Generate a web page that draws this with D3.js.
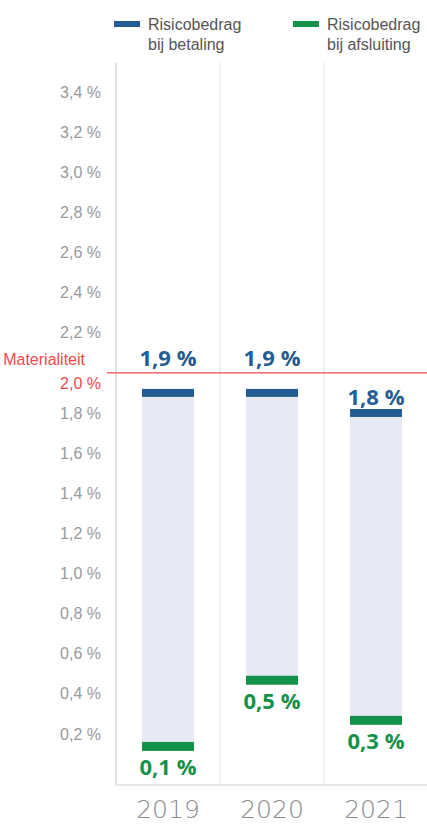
<!DOCTYPE html>
<html>
<head>
<meta charset="utf-8">
<script src="https://cdn.jsdelivr.net/npm/d3@7"></script>
<style>
  body { margin: 0; background: #fff; }
</style>
</head>
<body>
<div id="graph"></div>
<script>
// chart data
var years = ["2019", "2020", "2021"];
var betaling = [1.9, 1.9, 1.8];       // risicobedrag bij betaling
var afsluiting = [0.14, 0.47, 0.27];  // risicobedrag bij afsluiting
var yTicks = [0.2, 0.4, 0.6, 0.8, 1.0, 1.2, 1.4, 1.6, 1.8, 2.0, 2.2, 2.4, 2.6, 2.8, 3.0, 3.2, 3.4];
var materialiteit = 2.0;
var legendLabels = [["Risicobedrag", "bij betaling"], ["Risicobedrag", "bij afsluiting"]];

function draw_function() {
    var width = 427, height = 825;
    var blue = "#255d92", green = "#14924a", red = "#ef4a4a";

    var vis = d3.select("#graph")
        .append("svg")
        .attr("width", width).attr("height", height);

    var x = d3.scaleBand().domain(years).range([116, 428]).padding(0);
    var y = d3.scaleLinear().domain([0, 3.5]).range([774, 72]);
    var comma = function(v) { return d3.format(".1f")(v).replace(".", ",") + " %"; };

    // column separators + frame
    vis.selectAll("line.col")
        .data(years)
        .enter()
        .append("line")
        .attr("x1", function(d) { return x(d); })
        .attr("x2", function(d) { return x(d); })
        .attr("y1", 63).attr("y2", 786)
        .attr("stroke", function(d, i) { return i == 0 ? "#e2e2e2" : "#efefef"; })
        .attr("stroke-width", 2);
    vis.append("line")
        .attr("x1", 115).attr("x2", width)
        .attr("y1", 785).attr("y2", 785)
        .attr("stroke", "#e6e6e6").attr("stroke-width", 2);

    // y axis labels
    var yAxis = d3.axisLeft(y).tickValues(yTicks).tickSize(0).tickPadding(0)
        .tickFormat(comma);
    var ga = vis.append("g").attr("transform", "translate(101,0)").call(yAxis);
    ga.select(".domain").remove();
    ga.selectAll("text")
        .attr("font-family", "'Liberation Sans Narrow', 'Arial Narrow', sans-serif")
        .attr("font-size", 16)
        .attr("dy", function(d) { return d == materialiteit ? "1.0em" : "0.32em"; })
        .attr("fill", function(d) { return d == materialiteit ? red : "#9a9a9a"; });

    var bw = 52;
    var cx = function(i) { return x(years[i]) + x.bandwidth() / 2; };

    // range band
    vis.selectAll("rect.band")
        .data(years)
        .enter()
        .append("rect")
        .attr("x", function(d, i) { return cx(i) - bw / 2; })
        .attr("y", function(d, i) { return y(betaling[i]); })
        .attr("width", bw)
        .attr("height", function(d, i) { return y(afsluiting[i]) - y(betaling[i]); })
        .attr("fill", "#e7eaf4");

    // blue marks
    vis.selectAll("rect.top")
        .data(betaling)
        .enter()
        .append("rect")
        .attr("x", function(d, i) { return cx(i) - bw / 2; })
        .attr("y", function(d) { return y(d) - 4; })
        .attr("width", bw).attr("height", 8)
        .attr("fill", blue);

    // green marks
    vis.selectAll("rect.bottom")
        .data(afsluiting)
        .enter()
        .append("rect")
        .attr("x", function(d, i) { return cx(i) - bw / 2; })
        .attr("y", function(d) { return y(d) - 4; })
        .attr("width", bw).attr("height", 9)
        .attr("fill", green);

    // materialiteit line
    vis.append("line")
        .attr("x1", 107).attr("x2", width)
        .attr("y1", y(materialiteit)).attr("y2", y(materialiteit))
        .attr("stroke", red).attr("stroke-width", 1.2);
    vis.append("text")
        .attr("x", 85).attr("y", y(materialiteit) - 8)
        .attr("text-anchor", "end")
        .attr("font-family", "'Liberation Sans Narrow', 'Arial Narrow', sans-serif")
        .attr("font-size", 16)
        .attr("fill", red)
        .text("Materialiteit");

    var lblFont = "'Open Sans', sans-serif";
    // blue labels: above the mark, lifted over the red line when they would touch it
    vis.selectAll("text.top")
        .data(betaling)
        .enter()
        .append("text")
        .attr("x", function(d, i) { return cx(i); })
        .attr("y", function(d) {
            var base = y(d) - 8;
            return base - 17 < y(materialiteit) ? y(materialiteit) - 7 : base;
        })
        .attr("text-anchor", "middle")
        .attr("font-family", lblFont).attr("font-weight", 700)
        .attr("font-size", 22)
        .attr("fill", blue)
        .text(comma);

    // green labels
    vis.selectAll("text.bottom")
        .data(afsluiting)
        .enter()
        .append("text")
        .attr("x", function(d, i) { return cx(i); })
        .attr("y", function(d) { return y(d) + 29; })
        .attr("text-anchor", "middle")
        .attr("font-family", lblFont).attr("font-weight", 700)
        .attr("font-size", 22)
        .attr("fill", green)
        .text(comma);

    // x axis labels
    vis.selectAll("text.year")
        .data(years)
        .enter()
        .append("text")
        .attr("x", function(d, i) { return cx(i); })
        .attr("y", 818)
        .attr("text-anchor", "middle")
        .attr("font-family", "'DejaVu Sans', sans-serif").attr("font-weight", 300)
        .attr("font-size", 25)
        .attr("fill", "#8c8c8c")
        .text(function(d) { return d; });

    // legend
    var legend = vis.selectAll("g.legend")
        .data(legendLabels)
        .enter()
        .append("g")
        .attr("transform", function(d, i) { return "translate(" + (i == 0 ? 114 : 293) + ",0)"; });
    legend.append("rect")
        .attr("x", 0).attr("y", 21)
        .attr("width", 26).attr("height", 6)
        .attr("fill", function(d, i) { return i == 0 ? blue : green; });
    legend.selectAll("text")
        .data(function(d) { return d; })
        .enter()
        .append("text")
        .attr("x", 34)
        .attr("y", function(d, i) { return 30 + i * 20; })
        .attr("font-family", "'Liberation Sans Narrow', 'Arial Narrow', sans-serif")
        .attr("font-size", 16)
        .attr("fill", "#555")
        .text(function(d) { return d; });
}

window.onload = draw_function
</script>
</body>
</html>
